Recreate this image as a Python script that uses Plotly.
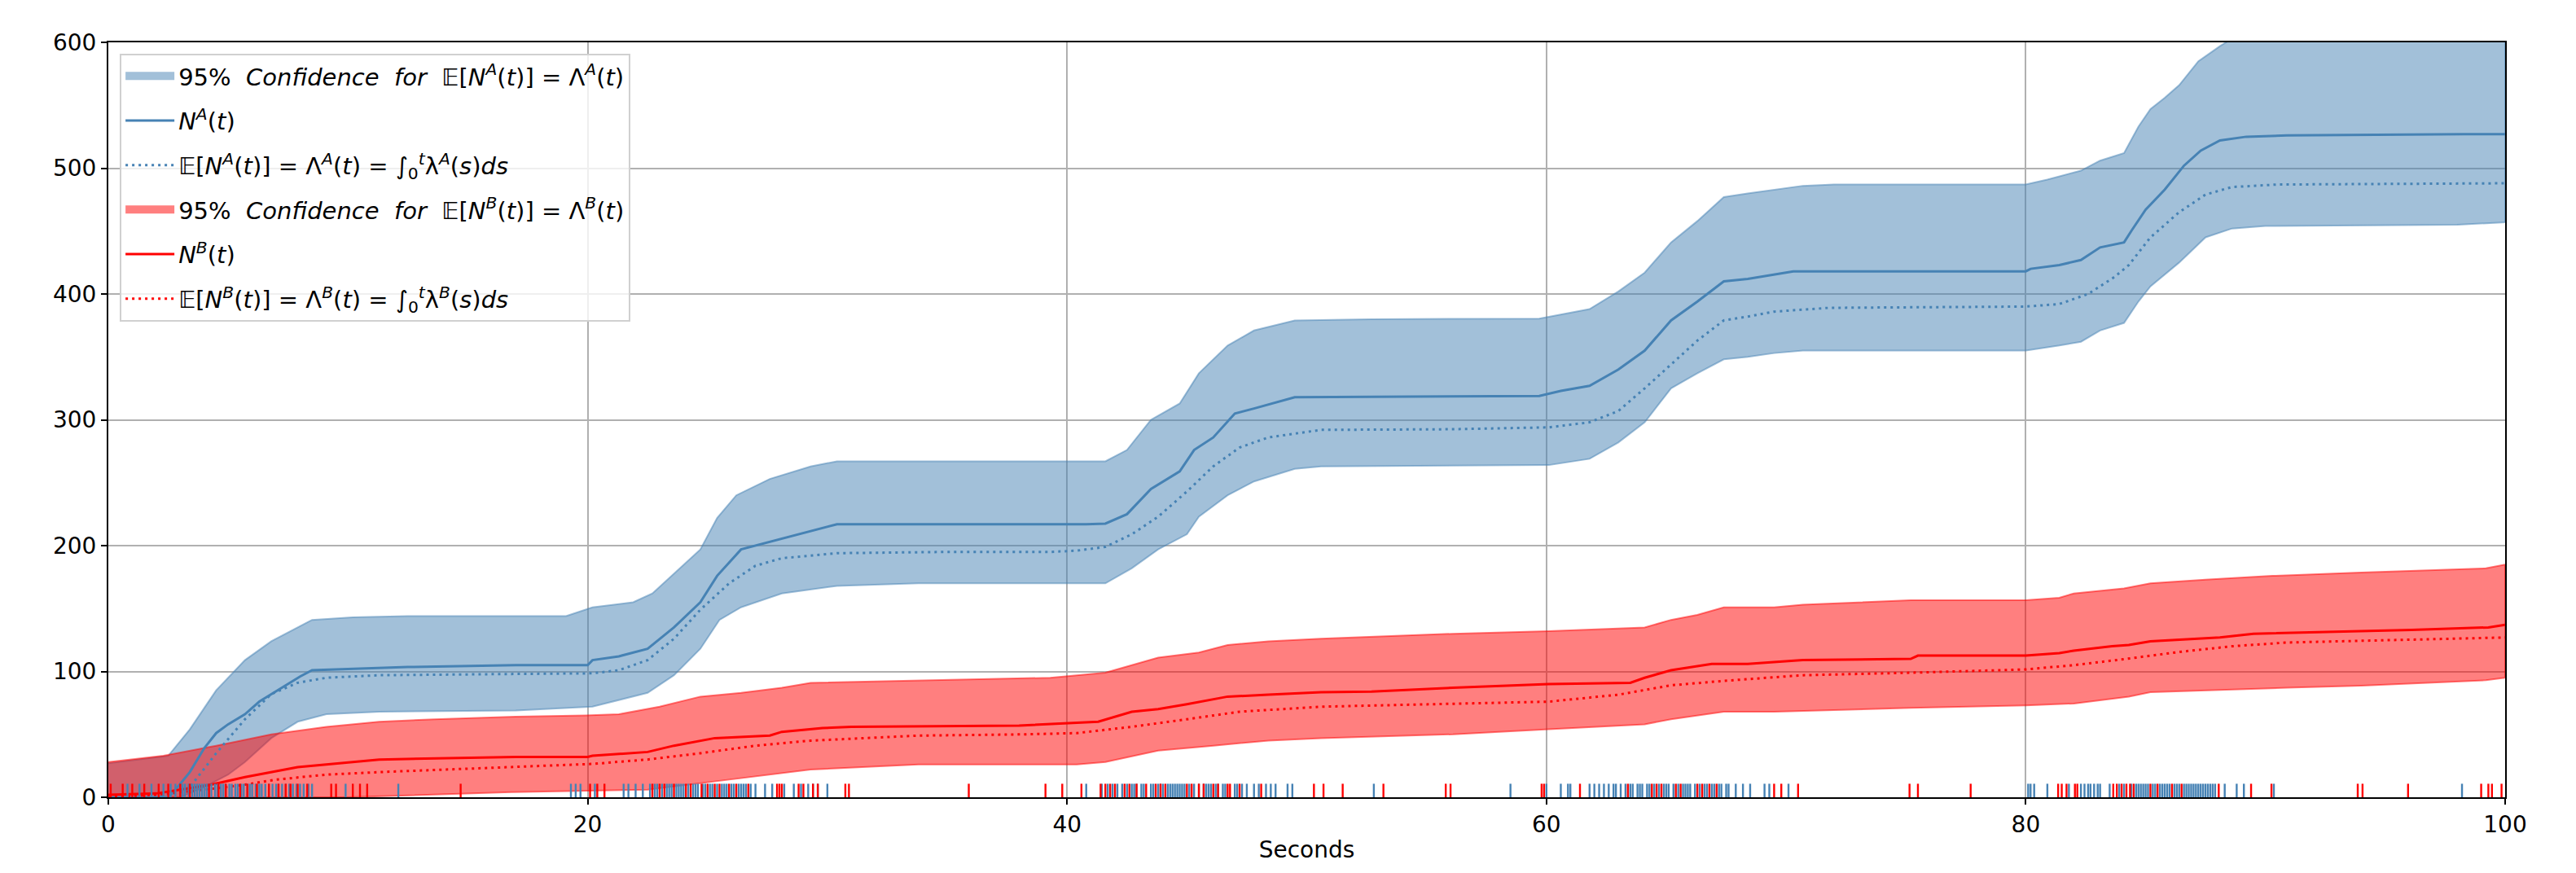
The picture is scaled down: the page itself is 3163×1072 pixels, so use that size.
import plotly.graph_objects as go

# ---------------- data ----------------
# N^A(t)  (observed counting process, series A)
na_t = [0, 2.5, 2.8, 3.4, 4.0, 4.5, 5.0, 5.7, 6.3, 7.4, 8.0, 8.5, 10.2, 12.5, 17, 20, 20.2, 21.3, 22.5, 23.6,
        24.7, 25.4, 26.4, 27.6, 29.3, 30.4, 40.8, 41.6, 42.5, 43.5, 44.7, 45.3, 46.1, 47.0, 47.8, 48.9, 49.5,
        59.7, 60.6, 61.8, 63.0, 64.1, 65.2, 66.3, 67.4, 68.4, 70.1, 70.3, 80.0, 80.2, 81.4, 82.3, 83.1, 84.1,
        84.4, 85.0, 85.8, 86.6, 87.3, 88.1, 89.2, 90.9, 98.3, 100]
na_v = [0, 0, 6, 20, 39, 51, 58, 66, 76, 89, 96, 101, 102, 103.5, 105, 105, 109, 112, 118, 135,
        155, 176, 197, 203, 211, 217, 217, 217.5, 225, 245, 259, 276, 286, 305, 309, 315, 318,
        319, 323, 327, 340, 355, 379, 394, 410, 412, 417, 418, 418, 420, 423, 427, 437, 441,
        450, 467, 483, 502, 514, 522, 525, 526, 527, 527]

# E[N^A(t)] = Lambda^A(t)
ea_t = [0, 2, 3, 3.4, 4.5, 5.7, 6.8, 7.9, 9.1, 11.3, 17, 20.2, 21.3, 22.5, 23.6, 24.7, 25.9, 27.0, 28.1, 30.4,
        35, 39.3, 40.4, 41.6, 42.7, 43.8, 45.0, 46.1, 47.2, 48.4, 50.6, 56, 60.1, 61.8, 63.0, 64.1, 65.2,
        66.3, 67.4, 68.4, 69.5, 71.8, 80, 81.4, 82.6, 83.7, 84.3, 85.2, 86.4, 87.5, 88.6, 90.5, 100]
ea_v = [0, 1, 4, 8, 35, 62, 82, 91, 95, 97, 98, 98.5, 101, 109, 126, 149, 170, 184, 190, 194,
        195, 195, 196, 199, 209, 223, 243, 263, 278, 286, 292, 292.5, 294, 298, 307, 325, 344,
        363, 379, 382, 386, 389, 390, 392, 400, 413.5, 423, 445, 465, 479, 485, 487, 488]

# 95% band for A (upper / lower)
au_t = [0, 2.5, 3.4, 4.5, 5.7, 6.8, 8.5, 10.2, 12.5, 19.1, 20.2, 21.9, 22.7, 23.6, 24.7, 25.4, 26.2, 27.6,
        29.3, 30.4, 41.6, 42.5, 43.5, 44.7, 45.5, 46.7, 47.8, 49.5, 52.7, 59.7, 60.1, 61.8, 63.0, 64.1,
        65.2, 66.3, 67.4, 68.4, 70.7, 72, 80, 80.9, 82.3, 83.1, 84.1, 84.7, 85.2, 85.8, 86.4, 87.2, 88.1,
        88.6, 90, 100]
au_v = [27, 33, 54, 85, 109, 124, 141, 143, 144, 144, 151, 155, 162, 178, 197, 222, 240, 253,
        263, 267, 267, 276, 300, 313, 337, 359, 371, 379, 380, 380.5, 382, 388, 402, 417,
        441, 458, 477, 480, 486, 487, 487, 491, 498, 506, 512, 533, 547, 556, 566, 585, 597,
        603, 606, 607]
al_t = [0, 3, 4, 5, 5.7, 6.8, 7.9, 9.1, 11.3, 17, 20.2, 22.5, 23.6, 24.7, 25.5, 26.4, 28.1, 30.4, 33.8,
        41.6, 42.7, 43.8, 45.0, 45.5, 46.7, 47.8, 49.5, 50.6, 60.1, 61.8, 63.0, 64.1, 65.2, 66.3, 67.4,
        68.4, 69.5, 70.7, 80, 81.4, 82.3, 83.1, 84.1, 84.7, 85.2, 86.4, 87.5, 88.6, 90, 98, 100]
al_v = [0, 0, 8, 18, 28, 47, 60, 66, 68, 69, 72, 83, 97, 118, 141, 151, 162, 168, 170,
        170, 182, 197, 209, 223, 240, 251, 261, 263, 264, 269, 282, 298, 325, 337, 348,
        350, 353, 355, 355, 359, 362, 371, 377, 394, 406, 425, 445, 452, 454, 455, 457]

# N^B(t)
nb_t = [0, 2, 4.3, 5.7, 7.9, 10.2, 11.3, 17, 20, 20.2, 22.5, 23.6, 25.3, 27.6, 28.1, 29.8, 31, 38, 39.1,
        41.3, 42.7, 43.8, 45.0, 46.7, 48.4, 50.6, 52.7, 56.1, 60.1, 63.5, 64.1, 65.2, 66.9, 68.4, 70.7,
        75.2, 75.5, 80, 81.4, 82.0, 83.6, 84.3, 85.2, 88.1, 89.5, 94, 96.1, 99.3, 100]
nb_v = [2, 3, 10, 16, 24, 28, 30, 32, 32, 33, 36, 41, 47, 49, 52, 55, 56, 57, 58,
        60, 68, 70, 74, 80, 81.5, 83.5, 84, 87, 90, 91, 95, 101, 106, 106, 109,
        110, 112.6, 112.6, 114.6, 116.5, 120, 121, 124, 127, 130, 132, 133, 135, 137]

# E[N^B(t)] = Lambda^B(t)
eb_t = [0, 2, 4, 5.7, 7, 9.1, 11.3, 17, 20.2, 22.5, 24.7, 27.0, 29.3, 33.8, 38.2, 40.4, 42.7, 45.0, 47.2,
        50.6, 56, 60.1, 63.0, 65.2, 67.4, 70.7, 75.2, 80, 82, 84.2, 86.4, 88.6, 90.9, 95.4, 100]
eb_v = [0, 2, 6, 10, 14, 18, 20, 24, 26.5, 30, 35, 41, 45, 49, 50, 51, 56, 62, 68,
        72, 74, 76, 81.5, 89, 92.5, 97, 99, 101.6, 105, 110, 115.5, 120, 123, 125, 127]

# 95% band for B (upper / lower)
bu_t = [0, 2.3, 4.5, 6.8, 9.1, 11.3, 13.6, 17, 19.9, 21.3, 23.0, 24.7, 26.4, 28.1, 29.3, 33.8, 39.3, 41.6,
        42.7, 43.8, 45.5, 46.7, 48.4, 50.6, 56.1, 60.1, 64.1, 65.2, 66.3, 67.4, 69.5, 70.7, 75.2, 80,
        81.4, 82.0, 84.1, 85.2, 87.5, 90.3, 94, 96, 99.2, 100]
bu_v = [28, 33, 41, 50, 56, 60, 62, 64, 65, 66, 72, 80, 83, 87, 91, 93, 95, 99,
        105, 111, 115, 121, 124, 126, 130, 132, 135, 141, 145, 151, 151, 153, 156.6, 156.6,
        158.6, 162, 166, 170, 173, 176, 178.6, 180, 182, 185]
bl_t = [0, 10, 13, 16.8, 22.5, 25.9, 29.3, 33.8, 40.4, 41.6, 43.8, 46.1, 48.4, 50.6, 56.1, 60.1, 64.1,
        65.2, 67.4, 69.5, 75.2, 80, 82, 84.3, 85.2, 87.5, 90.9, 94, 96, 99.2, 100]
bl_v = [0, 0, 2, 4, 6, 14, 22, 26, 26, 28, 37, 41, 45, 47, 50, 54, 58,
        62, 68, 68, 71, 73, 74.5, 80, 83.5, 85, 87, 88.6, 90, 93, 95]

# event times (rug) for A and B
events_a = [0.8, 1.3, 1.8, 2.3, 2.6, 2.8, 3.0, 3.1, 3.2, 3.35, 3.5, 3.6, 3.7, 3.8, 3.9, 4.0, 4.1, 4.2, 4.3,
            4.45, 4.55, 4.7, 4.8, 4.9, 5.05, 5.15, 5.3, 5.4, 5.55, 5.65, 5.8, 5.9, 6.0, 6.15, 6.3, 6.4, 6.55,
            6.7, 6.85, 7.0, 7.1, 7.25, 7.4, 7.55, 7.7, 7.85, 8.0, 8.15, 8.35, 8.5, 9.9, 12.1,
            19.3, 19.5, 19.7, 20.3, 21.5, 21.7, 22.0, 22.3, 22.6, 22.8, 22.9, 23.1, 23.3, 23.4, 23.5, 23.7,
            23.8, 23.9, 24.0, 24.2, 24.4, 24.5, 24.6, 24.8, 24.9, 25.1, 25.2, 25.4, 25.6, 25.7, 25.8, 26.0,
            26.1, 26.3, 26.4, 26.5, 26.6, 26.8, 27.0, 27.4, 27.7, 28.2, 28.6, 28.9, 29.2, 29.4, 29.6, 30.0,
            40.8, 41.45, 41.7, 41.9, 42.1, 42.3, 42.5, 42.7, 42.8, 42.9, 43.1, 43.2, 43.5, 43.6, 43.8, 43.9,
            44.0, 44.2, 44.3, 44.4, 44.5, 44.6, 44.7, 44.8, 44.9, 45.1, 45.3, 45.5, 45.7, 45.8, 45.9, 46.0,
            46.2, 46.3, 46.5, 46.6, 47.0, 47.1, 47.3, 47.5, 47.8, 48.0, 48.3, 48.5, 48.7, 49.2, 49.4, 52.8,
            58.5, 60.0, 60.6, 60.9, 61.0, 61.8, 62.0, 62.2, 62.4, 62.6, 62.8, 62.9, 63.1, 63.3, 63.5, 63.6,
            63.8, 63.9, 64.0, 64.2, 64.3, 64.5, 64.7, 64.9, 65.0, 65.1, 65.3, 65.5, 65.7, 65.8, 65.9, 66.0,
            66.2, 66.4, 66.6, 66.7, 66.9, 67.0, 67.2, 67.3, 67.5, 67.6, 67.9, 68.2, 68.5, 69.1, 69.3, 70.1,
            80.1, 80.2, 80.35, 80.9, 81.8, 82.3, 82.45, 82.6, 82.7, 82.85, 83.0, 83.1, 83.5, 83.9, 84.1,
            84.4, 84.6, 84.7, 84.8, 84.9, 85.0, 85.1, 85.3, 85.4, 85.6, 85.7, 85.8, 85.9, 86.0, 86.2, 86.3,
            86.4, 86.6, 86.7, 86.8, 86.9, 87.0, 87.1, 87.2, 87.3, 87.4, 87.5, 87.6, 87.7, 87.8, 87.9, 88.3,
            88.8, 89.1, 90.35, 98.2]
events_b = [0.1, 0.6, 1.0, 1.5, 2.1, 2.5, 3.0, 3.4, 4.2, 4.6, 4.9, 5.5, 5.8, 6.2, 6.7, 7.1, 7.4, 7.6, 7.9,
            8.3, 9.3, 9.5, 10.2, 10.5, 10.8, 14.7, 20.1, 20.4, 20.7, 22.7, 23.0, 23.2, 23.6, 24.1, 24.3,
            24.75, 25.0, 25.3, 25.5, 25.9, 26.2, 26.7, 27.9, 28.0, 28.1, 28.8, 29.0, 29.4, 29.6, 30.75,
            30.9, 35.9, 39.1, 39.8, 40.6, 41.4, 41.6, 41.8, 42.0, 42.4, 42.6, 42.9, 43.3, 43.7, 43.9, 44.1,
            45.0, 45.2, 45.5, 45.7, 46.1, 46.3, 46.7, 46.8, 47.2, 48.1, 50.3, 50.7, 51.5, 53.2, 55.8, 56.0,
            59.8, 59.9, 61.4, 63.4, 64.4, 64.6, 64.8, 65.4, 65.6, 66.3, 66.5, 66.8, 67.1, 69.5, 69.8, 70.5,
            75.15, 75.5, 77.7, 81.35, 81.5, 81.7, 82.05, 82.15, 83.65, 83.8, 84.0, 84.2, 84.35, 84.5, 85.2,
            85.5, 86.1, 86.5, 88.05, 89.4, 90.25, 93.85, 94.05, 95.95, 99.0, 99.3, 99.45, 99.85]

x_ticks = [0, 20, 40, 60, 80, 100]
y_ticks = [0, 100, 200, 300, 400, 500, 600]
x_title = "Seconds"

lab_band_a = "95%  <i>Confidence  for</i>  𝔼[<i>N</i><sup><i>A</i></sup>(<i>t</i>)] = Λ<sup><i>A</i></sup>(<i>t</i>)"
lab_n_a = "<i>N</i><sup><i>A</i></sup>(<i>t</i>)"
lab_e_a = ("𝔼[<i>N</i><sup><i>A</i></sup>(<i>t</i>)] = Λ<sup><i>A</i></sup>(<i>t</i>) = "
           "∫<sub>0</sub><sup><i>t</i></sup>λ<sup><i>A</i></sup>(<i>s</i>)<i>ds</i>")
lab_band_b = "95%  <i>Confidence  for</i>  𝔼[<i>N</i><sup><i>B</i></sup>(<i>t</i>)] = Λ<sup><i>B</i></sup>(<i>t</i>)"
lab_n_b = "<i>N</i><sup><i>B</i></sup>(<i>t</i>)"
lab_e_b = ("𝔼[<i>N</i><sup><i>B</i></sup>(<i>t</i>)] = Λ<sup><i>B</i></sup>(<i>t</i>) = "
           "∫<sub>0</sub><sup><i>t</i></sup>λ<sup><i>B</i></sup>(<i>s</i>)<i>ds</i>")

# ---------------- styles ----------------
BLUE = "rgb(70,130,180)"
BLUE_A = "rgba(70,130,180,0.5)"
RED = "rgb(255,0,0)"
RED_A = "rgba(255,0,0,0.5)"
FONT = "DejaVu Sans"
TICK_SIZE = 28
LEG_SIZE = 29

fig = go.Figure()


def band(t_up, v_up, t_lo, v_lo, fill):
    xs = list(t_up) + list(reversed(t_lo))
    ys = list(v_up) + list(reversed(v_lo))
    return go.Scatter(x=xs, y=ys, mode="lines", fill="toself", fillcolor=fill,
                      line=dict(color=fill, width=2), showlegend=False, hoverinfo="skip")


# fills first (collections sit below the lines)
fig.add_trace(band(au_t, au_v, al_t, al_v, BLUE_A))
fig.add_trace(band(bu_t, bu_v, bl_t, bl_v, RED_A))

# legend patches for the bands (no data drawn)
fig.add_trace(go.Scatter(x=[None], y=[None], mode="lines", line=dict(color=BLUE_A, width=22),
                         name=lab_band_a, legendrank=1, legendgroup="g1"))
fig.add_trace(go.Scatter(x=[None], y=[None], mode="lines", line=dict(color=RED_A, width=22),
                         name=lab_band_b, legendrank=4, legendgroup="g4"))

fig.add_trace(go.Scatter(x=na_t, y=na_v, mode="lines", line=dict(color=BLUE, width=3),
                         name=lab_n_a, legendrank=2, legendgroup="g2"))
fig.add_trace(go.Scatter(x=ea_t, y=ea_v, mode="lines", line=dict(color=BLUE, width=3, dash="3px,5px"),
                         name=lab_e_a, legendrank=3, legendgroup="g3"))
fig.add_trace(go.Scatter(x=nb_t, y=nb_v, mode="lines", line=dict(color=RED, width=3),
                         name=lab_n_b, legendrank=5, legendgroup="g5"))
fig.add_trace(go.Scatter(x=eb_t, y=eb_v, mode="lines", line=dict(color=RED, width=3, dash="3px,5px"),
                         name=lab_e_b, legendrank=6, legendgroup="g6"))

# rug of event times
RUG_Y = 4.4
fig.add_trace(go.Scatter(x=events_a, y=[RUG_Y] * len(events_a), mode="markers",
                         marker=dict(symbol="line-ns", size=14, line=dict(color=BLUE, width=2.4)),
                         showlegend=False, hoverinfo="x"))
fig.add_trace(go.Scatter(x=events_b, y=[RUG_Y] * len(events_b), mode="markers",
                         marker=dict(symbol="line-ns", size=14, line=dict(color=RED, width=2.4)),
                         showlegend=False, hoverinfo="x"))

axis_common = dict(showgrid=True, gridcolor="#b0b0b0", gridwidth=2, showline=True, linecolor="black",
                   linewidth=2, mirror=True, ticks="outside", ticklen=7, tickwidth=2, tickcolor="black",
                   zeroline=False, tickfont=dict(family=FONT, size=TICK_SIZE, color="black"))

fig.update_xaxes(range=[0, 100], tickvals=x_ticks, ticktext=[str(v) for v in x_ticks],
                 title=dict(text=x_title, font=dict(family=FONT, size=TICK_SIZE, color="black"), standoff=6),
                 **axis_common)
fig.update_yaxes(range=[0, 600], tickvals=y_ticks, ticktext=[str(v) for v in y_ticks], **axis_common)

fig.update_layout(
    width=3163, height=1072,
    margin=dict(l=125, r=95, t=44, b=101),
    paper_bgcolor="white", plot_bgcolor="white",
    font=dict(family=FONT, size=TICK_SIZE, color="black"),
    legend=dict(x=0.0048, y=0.985, xanchor="left", yanchor="top",
                bgcolor="rgba(255,255,255,0.8)", bordercolor="#d0d0d0", borderwidth=2,
                font=dict(family=FONT, size=LEG_SIZE, color="black"), itemwidth=60,
                traceorder="grouped", tracegroupgap=14),
    hovermode=False,
)

fig.write_html("out.html")
